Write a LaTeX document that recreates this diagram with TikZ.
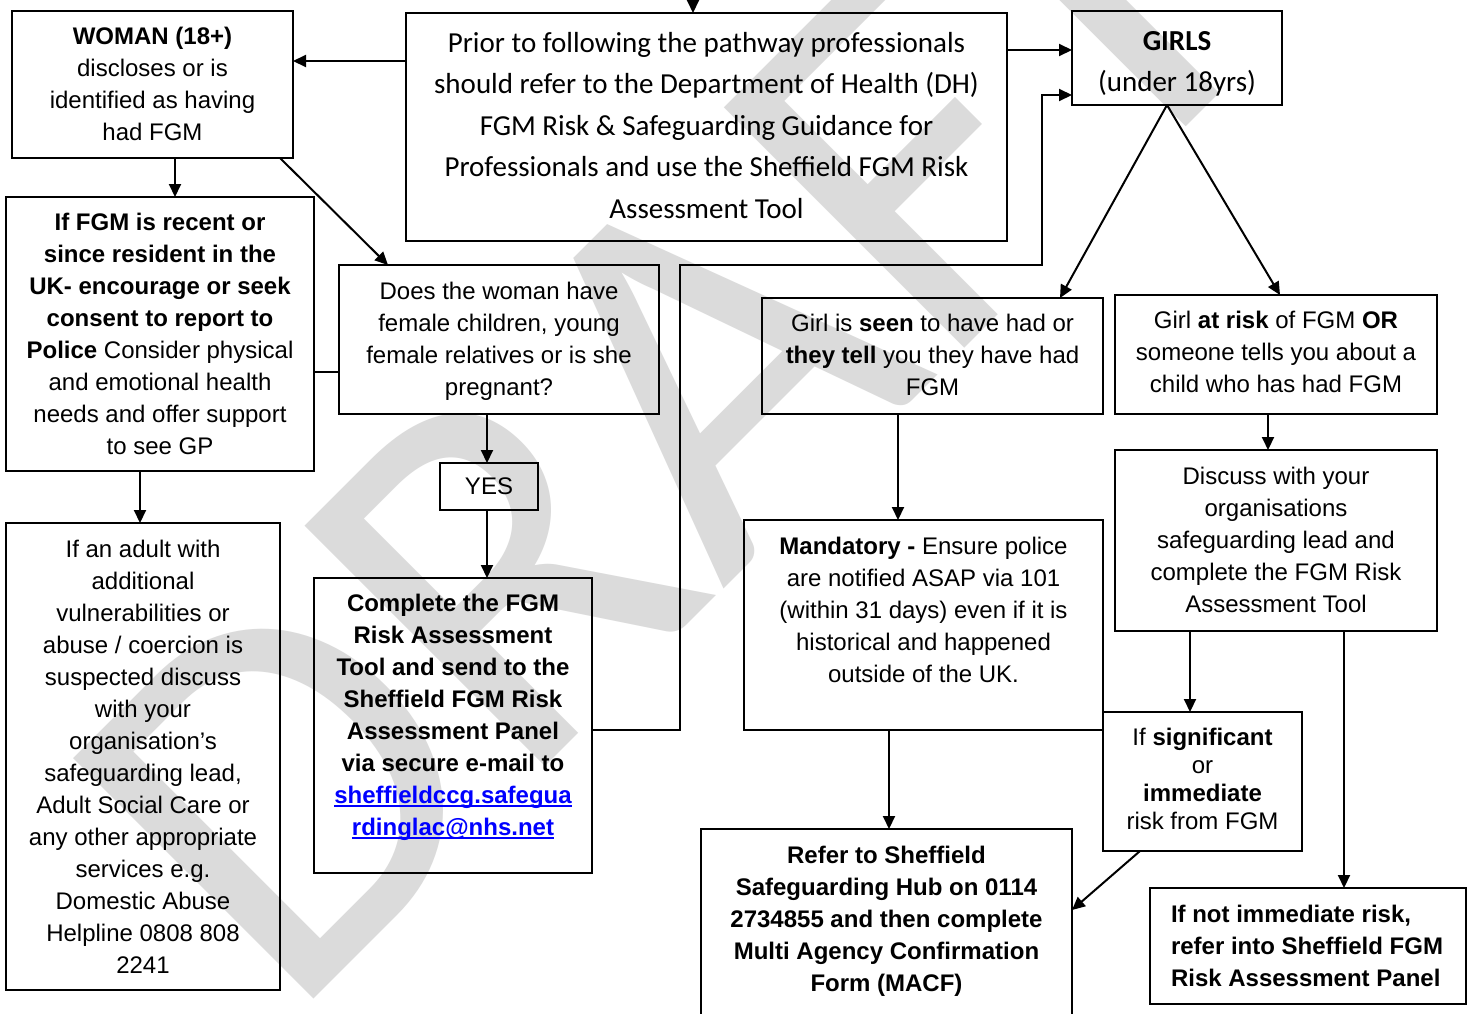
\documentclass[tikz,border=0pt]{standalone}
\usepackage{fontspec}
\setmainfont{Liberation Sans}
\newfontfamily\calfont{Carlito}
\usetikzlibrary{arrows.meta}
\definecolor{wm}{RGB}{219,219,219}
\definecolor{linkblue}{RGB}{0,0,255}
% W H pad format text
\newcommand{\bx}[5]{\parbox[c][#2pt][t]{#1pt}{#4\vspace*{#3pt}\strut#5\par}}
\newcommand{\stdtxt}{\centering\fontsize{24}{32}\selectfont}
\newcommand{\caltxt}{\centering\calfont\fontsize{29}{41.5}\selectfont}
\newcommand{\lnk}[1]{\textcolor{linkblue}{\setbox0\hbox{#1}\rlap{\rule[-3.5pt]{\wd0}{1.8pt}}\box0}}
\begin{document}
\begin{tikzpicture}[x=1pt,y=-1pt,
  box/.style={draw, line width=2pt, inner sep=0pt, outer sep=0pt},
  arr/.style={line width=2pt, -{Triangle[length=13pt,width=12pt]}},
  ln/.style={line width=2pt}]
\useasboundingbox (0,0) rectangle (1473,1013);
\fill[white] (0,0) rectangle (1473,1013);
\clip (0,0) rectangle (1473,1013);
% watermark
\node[rotate=45, text=wm, inner sep=0pt, font=\calfont\fontsize{530}{530}\selectfont] (wmk) at (671,401) {DRAFT};

% boxes
\node[box] (woman) at (152.5,84.5) {\bx{281}{147}{11.2}{\stdtxt}{\textbf{WOMAN (18+)}\\discloses or is\\identified as having\\had FGM}};
\node[box] (prior) at (706.5,127) {\bx{601}{228}{10.3}{\caltxt}{Prior to following the pathway professionals\\should refer to the Department of Health (DH)\\FGM Risk \& Safeguarding Guidance for\\Professionals and use the Sheffield FGM Risk\\Assessment Tool}};
\node[box] (girls) at (1177,58) {\bx{210}{94}{10.5}{\centering\calfont\fontsize{29}{41}\selectfont}{\textbf{GIRLS}\\(under 18yrs)}};
\node[box] (recent) at (160,334) {\bx{308}{274}{11.2}{\stdtxt}{\textbf{If FGM is recent or}\\\textbf{since resident in the}\\\textbf{UK- encourage or seek}\\\textbf{consent to report to}\\\textbf{Police} Consider physical\\and emotional health\\needs and offer support\\to see GP}};
\node[box] (does) at (499,339.5) {\bx{320}{149}{12.2}{\stdtxt}{Does the woman have\\female children, young\\female relatives or is she\\pregnant?}};
\node[box] (yes) at (489,486.5) {\parbox[c][47pt][c]{98pt}{\centering\fontsize{24}{32}\selectfont YES}};
\node[box] (complete) at (453,725.5) {\bx{278}{295}{11.2}{\stdtxt\bfseries}{Complete the FGM\\Risk Assessment\\Tool and send to the\\Sheffield FGM Risk\\Assessment Panel\\via secure e-mail to\\\lnk{sheffieldccg.safegua}\\\lnk{rdinglac@nhs.net}}};
\node[box] (adult) at (143,756.5) {\bx{274}{467}{12.2}{\stdtxt}{If an adult with\\additional\\vulnerabilities or\\abuse / coercion is\\suspected discuss\\with your\\organisation's\\safeguarding lead,\\Adult Social Care or\\any other appropriate\\services e.g.\\Domestic Abuse\\Helpline 0808 808\\2241}};
\node[box] (seen) at (932.5,356) {\bx{341}{116}{11.2}{\stdtxt}{Girl is \textbf{seen} to have had or\\\textbf{they tell} you they have had\\FGM}};
\node[box] (risk) at (1276,354.5) {\bx{322}{119}{11.2}{\stdtxt}{Girl \textbf{at risk} of FGM \textbf{OR}\\someone tells you about a\\child who has had FGM}};
\node[box] (discuss) at (1276,540.5) {\bx{322}{181}{12.2}{\stdtxt}{Discuss with your\\organisations\\safeguarding lead and\\complete the FGM Risk\\Assessment Tool}};
\node[box] (mand) at (923.5,625) {\bx{359}{210}{12.2}{\stdtxt}{\textbf{Mandatory -} Ensure police\\are notified ASAP via 101\\(within 31 days) even if it is\\historical and happened\\outside of the UK.}};
\node[box] (signif) at (1202.5,781.5) {\bx{199}{139}{14}{\centering\fontsize{24}{28}\selectfont}{If \textbf{significant}\\or\\\textbf{immediate}\\risk from FGM}};
\node[box] (refer) at (886.5,924.5) {\bx{371}{191}{12.2}{\stdtxt\bfseries}{Refer to Sheffield\\Safeguarding Hub on 0114\\2734855 and then complete\\Multi Agency Confirmation\\Form (MACF)}};
\node[box] (ifnot) at (1308,946) {\bx{316}{116}{12.2}{\raggedright\leftskip=21pt\fontsize{24}{32}\selectfont\bfseries}{If not immediate risk,\\refer into Sheffield FGM\\Risk Assessment Panel}};

% connectors
\coordinate (topin) at (693,-2);
\draw[arr] (topin) -- (topin |- prior.north);
\draw[arr] (prior.west |- 0,61) -- (woman.east |- 0,61);
\draw[arr] (prior.east |- 0,50) -- (girls.west |- 0,50);
\draw[arr] (complete.east |- 0,730) -- (680,730) -- (680,265) -- (1042,265) -- (1042,95) -- (girls.west |- 0,95);
\draw[arr] (woman.south -| 175,0) -- (recent.north -| 175,0);
\draw[arr] (woman.south -| 280,0) -- (does.north -| 388,0);
\draw[ln] (recent.east |- 0,372) -- (does.west |- 0,372);
\draw[arr] (recent.south -| 140,0) -- (adult.north -| 140,0);
\draw[arr] (does.south -| 487,0) -- (yes.north -| 487,0);
\draw[arr] (yes.south -| 487,0) -- (complete.north -| 487,0);
\draw[arr] (girls.south -| 1167,0) -- (seen.north -| 1060,0);
\draw[arr] (girls.south -| 1167,0) -- (risk.north -| 1280,0);
\draw[arr] (seen.south -| 898,0) -- (mand.north -| 898,0);
\draw[arr] (risk.south -| 1268,0) -- (discuss.north -| 1268,0);
\draw[arr] (mand.south -| 889,0) -- (refer.north -| 889,0);
\draw[arr] (discuss.south -| 1190,0) -- (signif.north -| 1190,0);
\draw[arr] (discuss.south -| 1344,0) -- (ifnot.north -| 1344,0);
\draw[arr] (signif.south -| 1140,0) -- (refer.east |- 0,910);
\end{tikzpicture}
\end{document}
